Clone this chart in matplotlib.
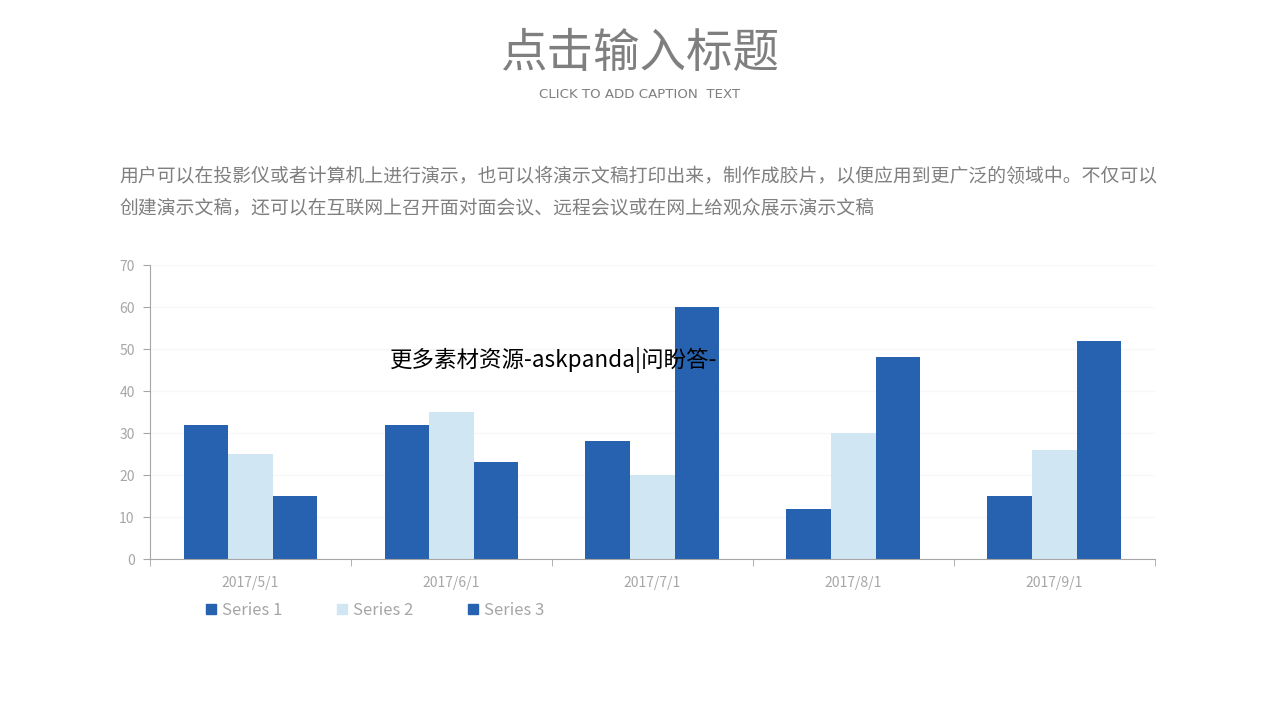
import numpy as np
import matplotlib.pyplot as plt
from matplotlib.patches import Patch

plt.rcParams['font.family'] = ['Noto Sans CJK SC', 'DejaVu Sans']

categories = ['2017/5/1', '2017/6/1', '2017/7/1', '2017/8/1', '2017/9/1']
series_names = ['Series 1', 'Series 2', 'Series 3']
series1 = [32, 32, 28, 12, 15]
series2 = [25, 35, 20, 30, 26]
series3 = [15, 23, 60, 48, 52]

dark = '#2662AF'
light = '#D0E6F2'
grey = '#7F7F7F'

fig = plt.figure(figsize=(12.8, 7.2), dpi=100)
ax = fig.add_axes([0.1172, 0.2236, 0.785, 0.4083])

x = np.arange(len(categories))
w = 0.222
ax.bar(x - w, series1, w, color=dark, zorder=2)
ax.bar(x, series2, w, color=light, zorder=2)
ax.bar(x + w, series3, w, color=dark, zorder=2)

ax.set_xlim(-0.5, len(categories) - 0.5)
ax.set_ylim(0, 70)
ax.set_yticks(range(0, 71, 10))
ax.yaxis.grid(True, color='#F7F7F7', linewidth=1, zorder=0)
ax.set_xticks(x)
ax.set_xticklabels(categories, color='#A6A6A6', fontsize=10)
ax.set_xticks(np.arange(-0.5, len(categories), 1), minor=True)
ax.tick_params(axis='x', which='major', length=0, pad=12)
ax.tick_params(axis='x', which='minor', length=5, color='#A6A6A6')
ax.tick_params(axis='y', length=5, color='#A6A6A6', labelcolor='#A6A6A6', labelsize=10, pad=6)
for s in ['top', 'right']:
    ax.spines[s].set_visible(False)
for s in ['left', 'bottom']:
    ax.spines[s].set_color('#A6A6A6')

handles = [Patch(color=c) for c in (dark, light, dark)]
fig.legend(handles, series_names, loc='center left', bbox_to_anchor=(0.149, 0.152),
           ncol=3, frameon=False, fontsize=12, labelcolor='#A6A6A6',
           handlelength=0.6, handleheight=0.6, handletextpad=0.35, columnspacing=3.3)

fig.text(0.5, 0.926, '点击输入标题', ha='center', va='center', fontsize=33.5, color=grey)
fig.text(0.5, 0.869, 'CLICK TO ADD CAPTION  TEXT', ha='center', va='center',
         fontsize=9.6, color=grey, family='DejaVu Sans')
para = ('用户可以在投影仪或者计算机上进行演示，也可以将演示文稿打印出来，制作成胶片，以便应用到更广泛的领域中。不仅可以\n'
        '创建演示文稿，还可以在互联网上召开面对面会议、远程会议或在网上给观众展示演示文稿')
fig.text(0.093, 0.733, para, ha='left', va='center', fontsize=13.55, color=grey, linespacing=1.6)
fig.text(0.305, 0.5, '更多素材资源-askpanda|问盼答-', ha='left', va='center', fontsize=16.2, color='black')

fig.savefig('out.png', dpi=100)
